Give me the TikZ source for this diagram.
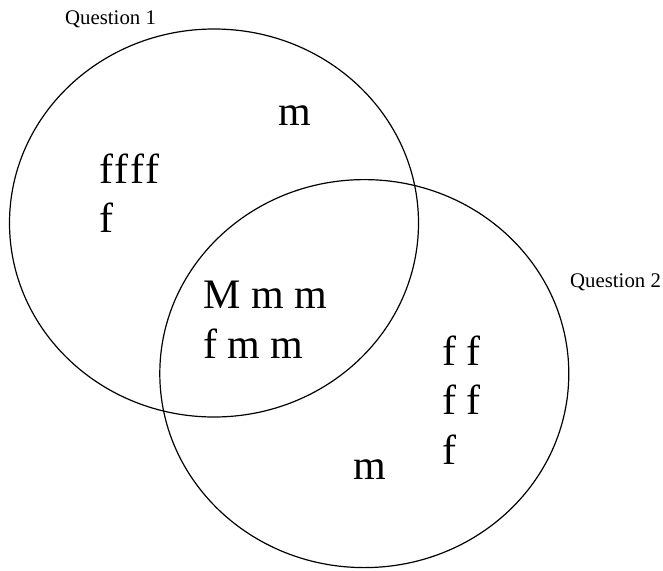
\documentclass[tikz,border=0pt]{standalone}
\usepackage{fontspec}
\setmainfont{Liberation Serif}[Ligatures=NoCommon]
\usetikzlibrary{shapes.geometric}
\begin{document}
\begin{tikzpicture}[x=1pt,y=-1pt,
  setring/.style={draw,line width=1.2pt,ellipse,inner sep=0pt,minimum width=409pt,minimum height=388pt},
  big/.style={inner sep=0pt,anchor=base west,font=\fontsize{42}{49}\selectfont},
  lab/.style={inner sep=0pt,anchor=base west,font=\fontsize{20.8}{24}\selectfont}]
\useasboundingbox (0,0) rectangle (663,570);
\node[setring] (q1) at (214,223) {};
\node[setring] (q2) at (364.3,373.6) {};
\node[lab] (l1) at (65,24) {Question 1};
\node[lab] (l2) at (570,287) {Question 2};
\node[big] (a1) at (278,125.5) {m};
\node[big] (a2) at (99,183.6) {f\kern1.5pt f\kern1.5pt f\kern1.5pt f};
\node[big] (a3) at (99,232.7) {f};
\node[big] (b1) at (203,308.4) {M m m};
\node[big] (b2) at (203,358) {f m m};
\node[big] (c1) at (442,365.5) {f f};
\node[big] (c2) at (442,414.5) {f f};
\node[big] (c3) at (442,464.7) {f};
\node[big] (c4) at (353,479.3) {m};
\end{tikzpicture}
\end{document}
